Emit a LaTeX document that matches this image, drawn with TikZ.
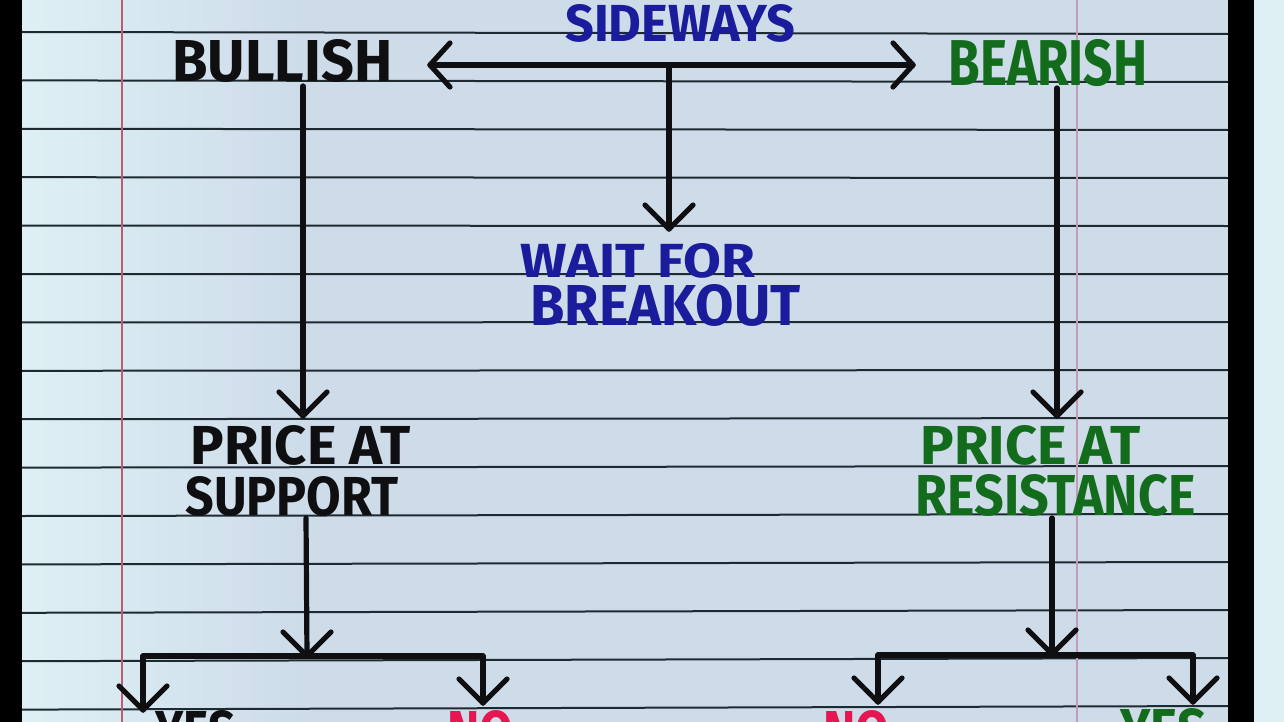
\documentclass[tikz,border=0pt]{standalone}
\usepackage{fontspec}
\setmainfont{Fira Sans}
\definecolor{paper}{RGB}{206,220,234}
\definecolor{paperlight}{RGB}{222,240,244}
\definecolor{rule}{RGB}{30,42,50}
\definecolor{inkblue}{RGB}{26,28,156}
\definecolor{inkgreen}{RGB}{18,108,28}
\definecolor{inkred}{RGB}{232,22,80}
\definecolor{inkblack}{RGB}{15,15,18}
\definecolor{margin}{RGB}{190,90,120}
\tikzset{
  conn/.style={draw=inkblack, line width=2.6pt, line cap=round, line join=round},
  lbl/.style={anchor=base west, inner sep=0pt, font=\bfseries},
  rulel/.style={draw=rule, line width=1pt},
}
\newcommand\fitt[3]{\resizebox{#1pt}{#2pt}{#3}}
% chevron tips
\newcommand\downtip[1]{\draw[conn] ([shift={(-24,-24)}]#1) -- (#1) -- ([shift={(24,-24)}]#1);}
\newcommand\lefttip[1]{\draw[conn] ([shift={(20,-22)}]#1) -- (#1) -- ([shift={(20,22)}]#1);}
\newcommand\righttip[1]{\draw[conn] ([shift={(-20,-22)}]#1) -- (#1) -- ([shift={(-20,22)}]#1);}
\begin{document}
\begin{tikzpicture}[x=0.5pt,y=-0.5pt]
\useasboundingbox (0,0) rectangle (1284,722);
\clip (0,0) rectangle (1284,722);
% paper
\fill[paper] (0,0) rectangle (1284,722);
\shade[left color=paperlight, right color=paper] (22,0) rectangle (300,722);
\fill[paperlight] (1254,0) rectangle (1284,722);
% ruling lines
\foreach \k in {0,...,14}{
  \draw[rulel] (22,{32+48.4*\k}) -- (1228,{34+48.0*\k});
}
% margin lines
\draw[margin, line width=0.6pt] (122,0) -- (122,722);
\draw[margin!50!paper, line width=0.8pt] (1077,0) -- (1077,722);
% black borders
\fill[black] (0,0) rectangle (22,722);
\fill[black] (1228,0) rectangle (1254,722);

% labels
\node[lbl, text=inkblue] (side) at (565,42) {\fitt{115}{18.5}{SIDEWAYS}};
\node[lbl, text=inkblack] (bull) at (172,82) {\fitt{110}{21}{BULLISH}};
\node[lbl, text=inkgreen] (bear) at (948,86) {\fitt{99.5}{23}{BEARISH}};
\node[lbl, text=inkblue] (wait) at (520,277) {\fitt{117.5}{17}{WAIT FOR}};
\node[lbl, text=inkblue] (brk) at (530,325) {\fitt{135}{20.5}{BREAKOUT}};
\node[lbl, text=inkblack] (pal) at (190,464) {\fitt{110}{19.5}{PRICE AT}};
\node[lbl, text=inkblack] (sup) at (185,515) {\fitt{106.5}{19.5}{SUPPORT}};
\node[lbl, text=inkgreen] (par) at (920,464) {\fitt{110}{19.5}{PRICE AT}};
\node[lbl, text=inkgreen] (res) at (915,515) {\fitt{140}{20.5}{RESISTANCE}};
\node[lbl, text=inkblack] (yesl) at (155,750) {\fitt{40}{20}{YES}};
\node[lbl, text=inkred] (nol) at (447,752) {\fitt{33}{21}{NO}};
\node[lbl, text=inkred] (nor) at (823,752) {\fitt{33}{21}{NO}};
\node[lbl, text=inkgreen] (yesr) at (1120,750) {\fitt{43}{21}{YES}};

% coordinates
\coordinate (hl) at (430,65);
\coordinate (hr) at (913,65);
\coordinate (hm) at (669,65);
\coordinate (wt) at (669,229);
\coordinate (bl1) at (303,86);
\coordinate (bl2) at (303,416);
\coordinate (br1) at (1057,88);
\coordinate (br2) at (1057,416);
\coordinate (sl1) at (306,518);
\coordinate (sl2) at (307,656);
\coordinate (ll) at (143,656);
\coordinate (lr) at (483,656);
\coordinate (lld) at (143,710);
\coordinate (lrd) at (483,703);
\coordinate (sr1) at (1052,518);
\coordinate (sr2) at (1052,654);
\coordinate (rl) at (878,655);
\coordinate (rr) at (1193,655);
\coordinate (rld) at (878,702);
\coordinate (rrd) at (1193,702);

% connectors
\draw[conn] (hl) -- (hr);
\lefttip{hl}
\righttip{hr}
\draw[conn] (hm) -- (wt); \downtip{wt}
\draw[conn] (bl1) -- (bl2); \downtip{bl2}
\draw[conn] (br1) -- (br2); \downtip{br2}
\draw[conn] (sl1) -- (sl2); \downtip{sl2}
\draw[conn] (lld) -- (ll) -- (lr) -- (lrd);
\downtip{lld} \downtip{lrd}
\draw[conn] (sr1) -- (sr2); \downtip{sr2}
\draw[conn] (rld) -- (rl) -- (rr) -- (rrd);
\downtip{rld} \downtip{rrd}
\end{tikzpicture}
\end{document}
